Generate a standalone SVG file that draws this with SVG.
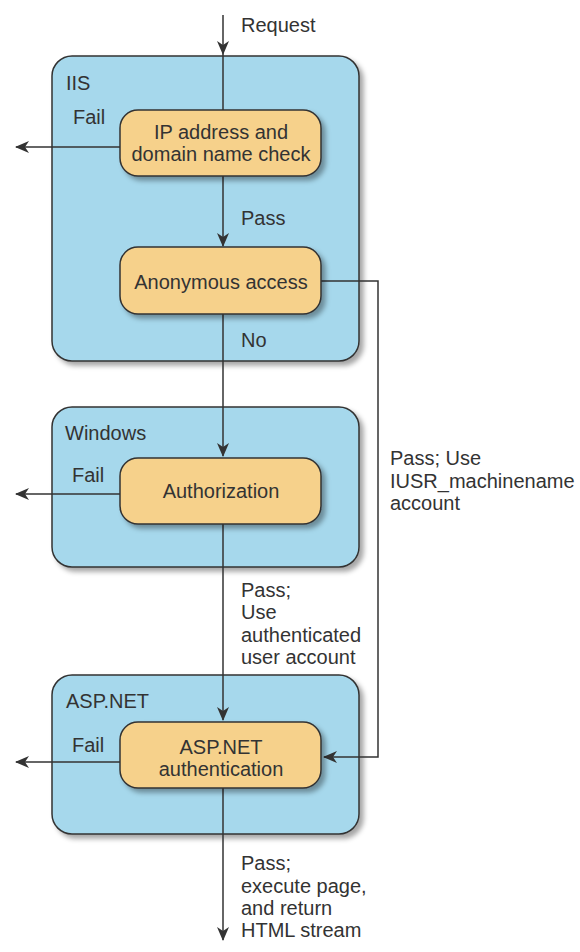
<svg xmlns="http://www.w3.org/2000/svg" width="580" height="952" viewBox="0 0 580 952">
<style>
.container{fill:#a6d8ec;stroke:#333;stroke-width:1.5}
.box{fill:#f6d18b;stroke:#333;stroke-width:1.5}
.line{fill:none;stroke:#333;stroke-width:1.5}
text{font-family:"Liberation Sans",Arial,sans-serif;font-size:20px;fill:#333}
.c{text-anchor:middle}
</style>
<defs>
<filter id="sh" x="-10%" y="-10%" width="130%" height="130%">
<feDropShadow dx="4" dy="4" stdDeviation="2.5" flood-color="#000" flood-opacity="0.35"/>
</filter>
<marker id="arr" markerUnits="userSpaceOnUse" markerWidth="14" markerHeight="12" viewBox="0 0 14 12" refX="13" refY="6" orient="auto">
<path d="M0,0 L14,6 L0,12 L4,6 z" fill="#333"/>
</marker>
</defs>
<g id="iis">
<rect class="container" x="52" y="56" width="307" height="305" rx="20" filter="url(#sh)"/>
<text x="66" y="90">IIS</text>
</g>
<g id="windows">
<rect class="container" x="52" y="407" width="307" height="160" rx="20" filter="url(#sh)"/>
<text x="65" y="440">Windows</text>
</g>
<g id="aspnet">
<rect class="container" x="52" y="675" width="307" height="159" rx="20" filter="url(#sh)"/>
<text x="66" y="708">ASP.NET</text>
</g>
<g id="connectors">
<path class="line" d="M223,15 V54" marker-end="url(#arr)"/>
<path class="line" d="M223,54 V110"/>
<path class="line" d="M223,176 V246" marker-end="url(#arr)"/>
<path class="line" d="M223,314 V456" marker-end="url(#arr)"/>
<path class="line" d="M223,524 V720" marker-end="url(#arr)"/>
<path class="line" d="M223,788 V940" marker-end="url(#arr)"/>
<path class="line" d="M120,147 H16" marker-end="url(#arr)"/>
<path class="line" d="M120,494 H16" marker-end="url(#arr)"/>
<path class="line" d="M120,762 H16" marker-end="url(#arr)"/>
<path class="line" d="M321,281 H378 V757 H324" marker-end="url(#arr)"/>
<text x="241" y="32">Request</text>
<text x="73" y="124">Fail</text>
<text x="241" y="225">Pass</text>
<text x="241" y="347">No</text>
<text x="72" y="482">Fail</text>
<text x="72" y="752">Fail</text>
<text x="390" y="465">Pass; Use</text>
<text x="390" y="488">IUSR_machinename</text>
<text x="390" y="510">account</text>
<text x="241" y="597">Pass;</text>
<text x="241" y="619">Use</text>
<text x="241" y="642">authenticated</text>
<text x="241" y="664">user account</text>
<text x="241" y="870">Pass;</text>
<text x="241" y="893">execute page,</text>
<text x="241" y="915">and return</text>
<text x="241" y="937">HTML stream</text>
</g>
<g id="ipcheck">
<rect class="box" x="120" y="110" width="201" height="66" rx="18" filter="url(#sh)"/>
<text class="c" x="221" y="139">IP address and</text>
<text class="c" x="221" y="161">domain name check</text>
</g>
<g id="anonymous">
<rect class="box" x="120" y="247" width="201" height="67" rx="18" filter="url(#sh)"/>
<text class="c" x="221" y="289">Anonymous access</text>
</g>
<g id="authorization">
<rect class="box" x="120" y="458" width="201" height="66" rx="18" filter="url(#sh)"/>
<text class="c" x="221" y="498">Authorization</text>
</g>
<g id="aspauth">
<rect class="box" x="120" y="722" width="201" height="66" rx="18" filter="url(#sh)"/>
<text class="c" x="221" y="754">ASP.NET</text>
<text class="c" x="221" y="776">authentication</text>
</g>
</svg>
